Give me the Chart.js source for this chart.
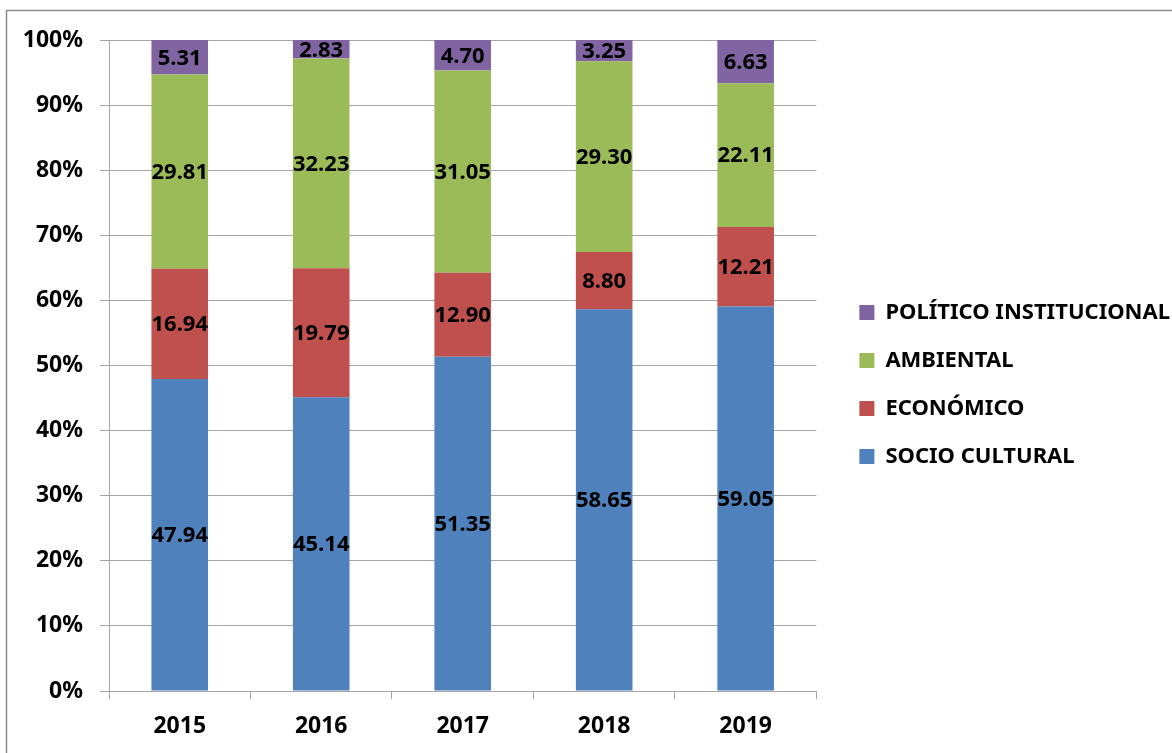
<!DOCTYPE html>
<html>
<head>
<meta charset="utf-8">
<script src="https://cdn.jsdelivr.net/npm/chart.js@4.4.1/dist/chart.umd.min.js"></script>
<style>
  html, body { margin: 0; padding: 0; background: #fff; }
  #wrap { width: 1172px; height: 753px; }
</style>
</head>
<body>
<div id="wrap"><canvas id="chart" width="1172" height="753"></canvas></div>
<script>
const years = ['2015', '2016', '2017', '2018', '2019'];
const socioCultural = [47.94, 45.14, 51.35, 58.65, 59.05];
const economico     = [16.94, 19.79, 12.90, 8.80, 12.21];
const ambiental     = [29.81, 32.23, 31.05, 29.30, 22.11];
const politico      = [5.31, 2.83, 4.70, 3.25, 6.63];
const yTicks = [0, 10, 20, 30, 40, 50, 60, 70, 80, 90, 100];

const FONT = '"Noto Sans"';
const GRID = '#a6a6a6';

// white bg + thin grey frame like the office export
const framePlugin = {
  id: 'frame',
  beforeDraw(chart) {
    const ctx = chart.ctx;
    ctx.save();
    ctx.fillStyle = '#fff';
    ctx.fillRect(0, 0, chart.width, chart.height);
    ctx.strokeStyle = '#8c8c8c';
    ctx.lineWidth = 1.5;
    ctx.beginPath();
    ctx.moveTo(6.5, chart.height + 2);
    ctx.lineTo(6.5, 10.5);
    ctx.lineTo(chart.width + 2, 10.5);
    ctx.stroke();
    ctx.restore();
  }
};

// value labels in the middle of each segment
const valueLabels = {
  id: 'valueLabels',
  afterDatasetsDraw(chart) {
    const ctx = chart.ctx;
    ctx.save();
    ctx.font = `bold 22px ${FONT}`;
    ctx.fillStyle = '#000';
    ctx.textAlign = 'center';
    ctx.textBaseline = 'middle';
    chart.data.datasets.forEach((ds, i) => {
      const meta = chart.getDatasetMeta(i);
      meta.data.forEach((bar, j) => {
        const y = (bar.y + bar.base) / 2;
        ctx.fillText(ds.data[j].toFixed(2), bar.x, y + 1);
      });
    });
    ctx.restore();
  }
};

new Chart(document.getElementById('chart'), {
  type: 'bar',
  data: {
    labels: years,
    datasets: [
      { label: 'SOCIO CULTURAL', data: socioCultural, backgroundColor: '#4f81bd' },
      { label: 'ECONÓMICO', data: economico, backgroundColor: '#c0504d' },
      { label: 'AMBIENTAL', data: ambiental, backgroundColor: '#9bbb59' },
      { label: 'POLÍTICO INSTITUCIONAL', data: politico, backgroundColor: '#8064a2' }
    ]
  },
  options: {
    responsive: false,
    animation: false,
    devicePixelRatio: 1,
    layout: { padding: { top: 16, bottom: 0, left: 0, right: -8 } },
    datasets: { bar: { categoryPercentage: 1, barPercentage: 0.4 } },
    scales: {
      x: {
        stacked: true,
        grid: { display: true, drawOnChartArea: false, offset: true, color: GRID, tickLength: 8 },
        border: { color: GRID },
        ticks: { color: '#000', font: { family: FONT, weight: 'bold', size: 23 }, padding: 14 },
        afterFit: s => { s.height = 62; }
      },
      y: {
        stacked: true,
        min: 0,
        max: 100,
        afterBuildTicks: s => { s.ticks = yTicks.map(v => ({ value: v })); },
        grid: { color: GRID, tickLength: 9 },
        border: { color: GRID },
        ticks: {
          color: '#000',
          font: { family: FONT, weight: 'bold', size: 23 },
          padding: 17,
          callback: v => v + '%'
        },
        afterFit: s => { s.width = 109; s.paddingTop = 40; }
      },
      gap: {
        position: 'right',
        type: 'linear',
        display: true,
        grid: { display: false },
        border: { display: false },
        ticks: { display: false },
        afterFit: s => { s.width = 17; }
      }
    },
    plugins: {
      tooltip: { enabled: false },
      legend: {
        position: 'right',
        reverse: true,
        maxWidth: 400,
        labels: {
          color: '#000',
          boxWidth: 15,
          boxHeight: 15,
          padding: 26,
          font: { family: FONT, weight: 'bold', size: 22 }
        }
      }
    }
  },
  plugins: [framePlugin, valueLabels]
});
</script>
</body>
</html>
